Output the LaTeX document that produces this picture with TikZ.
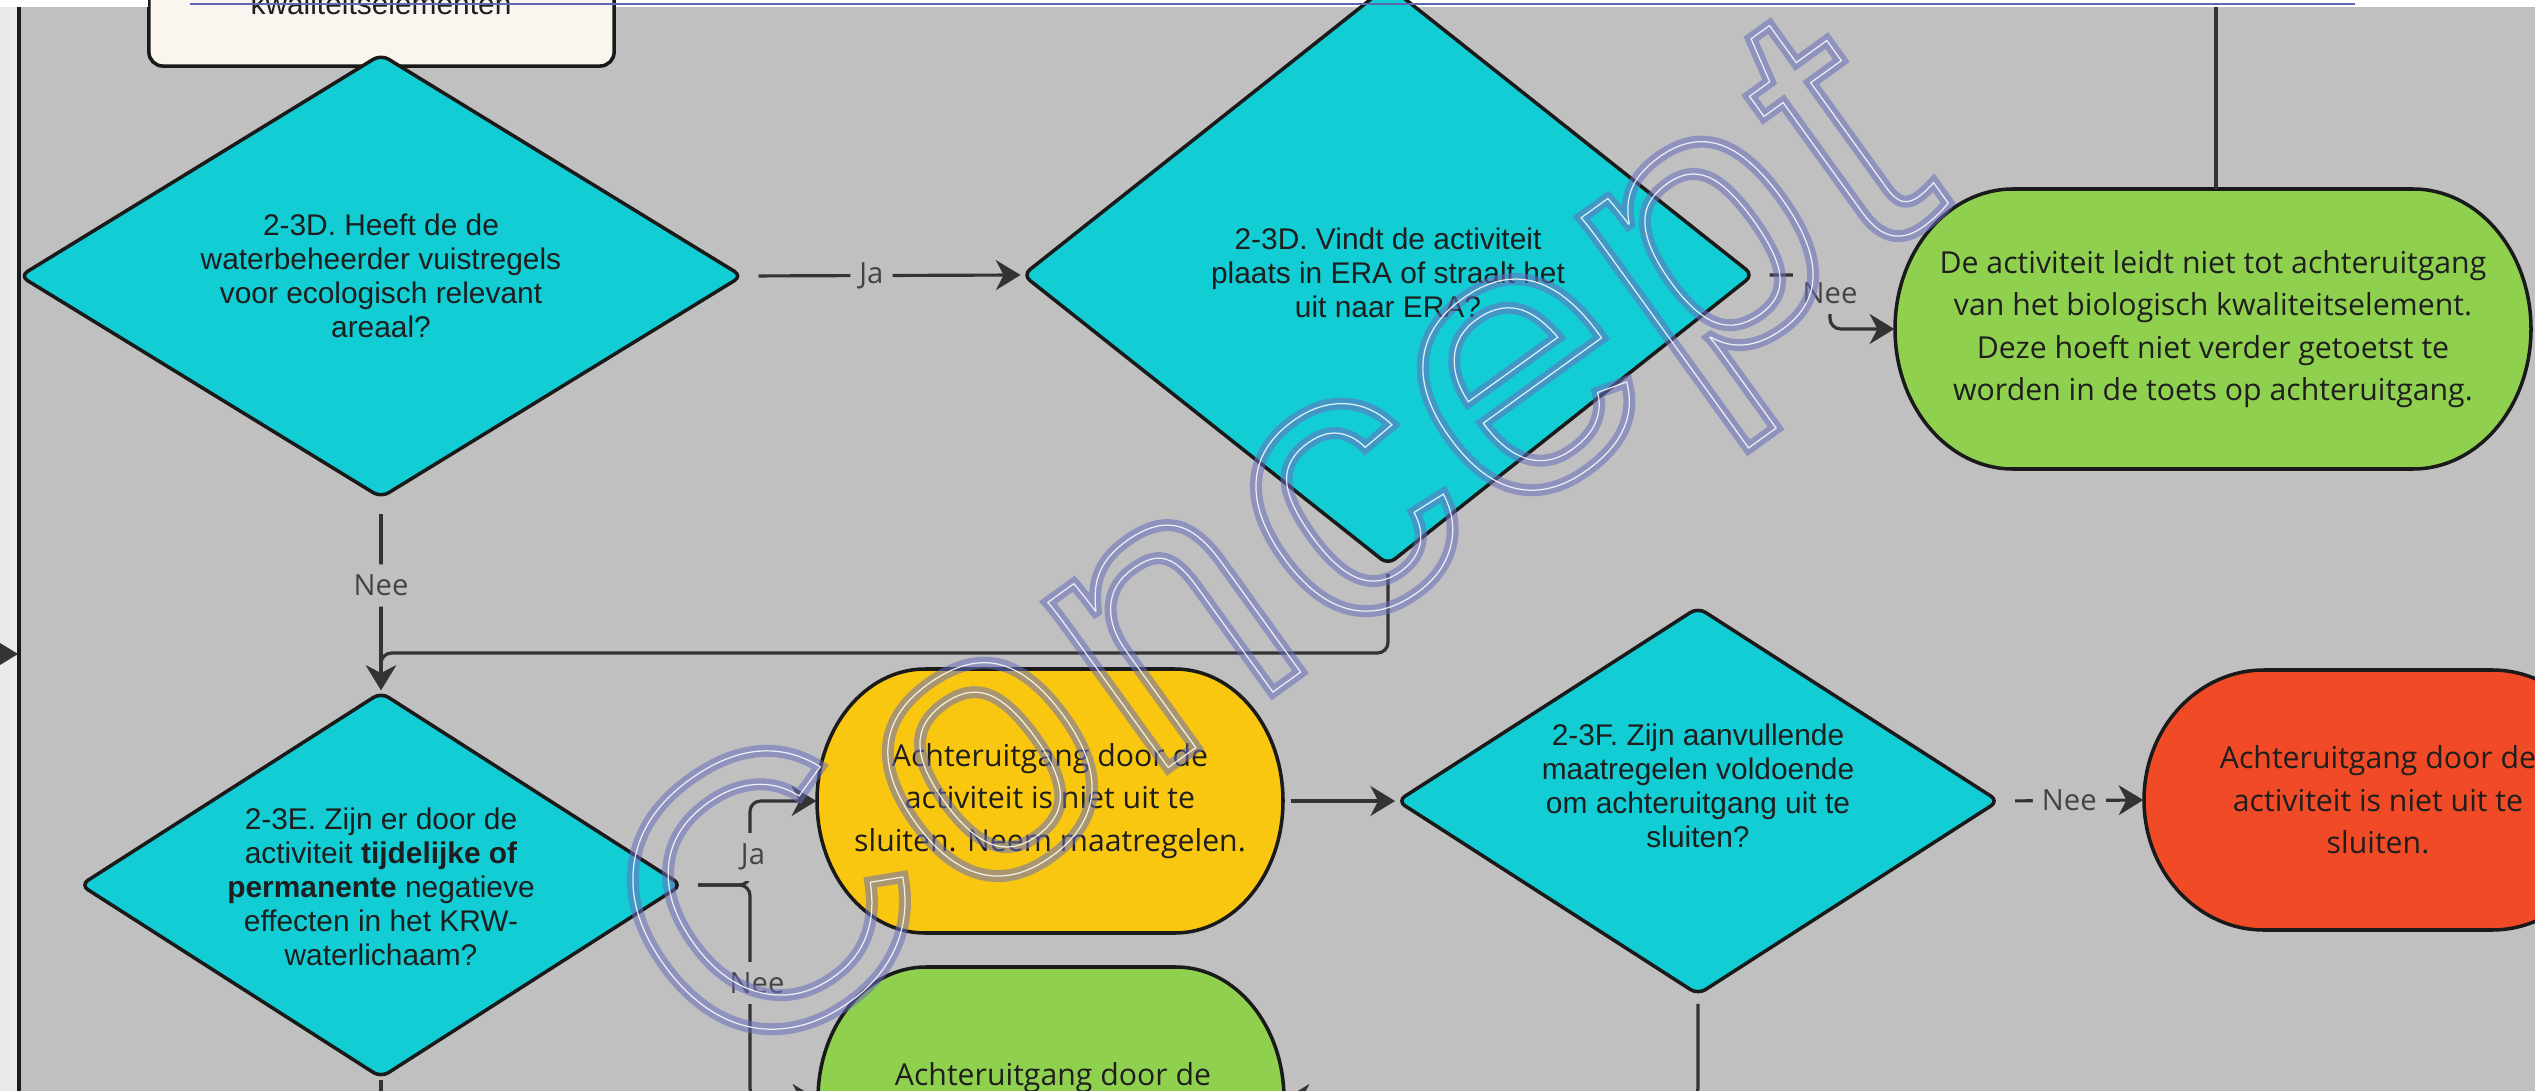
\documentclass[tikz,border=0pt]{standalone}
\usepackage{fontspec}
\usetikzlibrary{arrows.meta,shapes.geometric}
\newfontfamily\arialf{Liberation Sans}
\newfontfamily\osans{Open Sans}
\newfontfamily\wmfont[LetterSpace=3]{Liberation Sans}

\definecolor{panel}{RGB}{192,192,192}
\definecolor{strip}{RGB}{233,233,233}
\definecolor{cyanq}{RGB}{18,205,212}
\definecolor{greenb}{RGB}{143,209,79}
\definecolor{yellowb}{RGB}{250,199,16}
\definecolor{redb}{RGB}{240,74,38}
\definecolor{creamb}{RGB}{250,245,238}
\definecolor{edge}{RGB}{26,26,26}
\definecolor{conn}{RGB}{51,51,51}
\definecolor{lbl}{RGB}{68,68,68}
\definecolor{txt}{RGB}{30,30,30}
\definecolor{rule}{RGB}{95,105,178}
\definecolor{wmark}{RGB}{104,110,188}

% text drawn as outline only (stroke width in bp)
\newcommand\strokedtext[2]{\special{pdf:literal direct #1 w 1 Tr}#2\special{pdf:literal direct 0 Tr}}

% capsule-shaped terminal: name, fill, cx, cy, half width, half height, end radius, text
\newcommand\capsule[8]{%
  \filldraw[shapeline, fill=#2] ({#3-#5+#7},{#4+#6}) -- ({#3+#5-#7},{#4+#6})
    arc[start angle=90, end angle=-90, x radius={#7*0.01cm}, y radius={#6*0.01cm}]
    -- ({#3-#5+#7},{#4-#6})
    arc[start angle=270, end angle=90, x radius={#7*0.01cm}, y radius={#6*0.01cm}] -- cycle;
  \node[ctext, minimum width={2*#5*0.01cm}, minimum height={2*#6*0.01cm}] (#1) at (#3,#4) {#8};}

\begin{document}
\begin{tikzpicture}[x=0.01cm, y=0.01cm,
  shapeline/.style={draw=edge, line width=1pt},
  decision/.style={diamond, draw=edge, line width=1pt, fill=cyanq, rounded corners=2.5pt, inner sep=0pt},
  qtext/.style={font=\arialf\fontsize{8.5}{9.7}\selectfont, text=txt, align=center, inner sep=0pt},
  ctext/.style={font=\osans\fontsize{8.6}{12.1}\selectfont, text=txt, align=center, inner sep=0pt},
  lab/.style={font=\osans\fontsize{8.3}{10}\selectfont, text=lbl, fill=panel, inner xsep=2.6pt, inner ysep=3pt},
  conn/.style={draw=conn, line width=0.9pt, rounded corners=3pt, shorten <=4pt,
    -{Stealth[length=7pt, width=8.5pt, inset=2.2pt]}},
  plainline/.style={draw=conn, line width=0.9pt},
  wm/.style={rotate=35.8, inner sep=0pt, font=\wmfont\fontsize{110}{110}\selectfont}]

\useasboundingbox (0,0) rectangle (2535,-1091);
\clip (0,0) rectangle (2535,-1091);

% page and swimlane background
\fill[white] (0,0) rectangle (2535,-1091);
\fill[strip] (0,-7) rectangle (19,-1091);
\fill[panel] (19,-7) rectangle (2535,-1091);
\draw[edge, line width=1.1pt] (19,-7) -- (19,-1100);

% box above the first question
\node[draw=edge, line width=1pt, fill=creamb, rounded corners=4pt, minimum width=4.65cm,
  minimum height=2cm, inner sep=0pt] (kwal) at (381.5,34) {};
\node[font=\arialf\fontsize{8.5}{9.7}\selectfont, text=txt, anchor=base, inner sep=0pt]
  (kwaltxt) at (381,-15) {kwaliteitselementen};

% decisions
\node[decision, minimum width=7.23cm, minimum height=4.44cm] (d1) at (381,-276) {};
\node[qtext] (d1q) at (d1.center) {2-3D. Heeft de de\\waterbeheerder vuistregels\\voor ecologisch relevant\\areaal?};

\node[decision, minimum width=7.31cm, minimum height=5.8cm] (d2) at (1388,-275) {};
\node[qtext] (d2q) at (1388,-273) {2-3D. Vindt de activiteit\\plaats in ERA of straalt het\\uit naar ERA?};

\node[decision, minimum width=6.02cm, minimum height=3.86cm] (de) at (381,-885) {};
\node[qtext] (deq) at (381,-887) {2-3E. Zijn er door de\\activiteit \textbf{tijdelijke of}\\\textbf{permanente} negatieve\\effecten in het KRW-\\waterlichaam?};

\node[decision, minimum width=6.02cm, minimum height=3.88cm] (df) at (1698,-801) {};
\node[qtext] (dfq) at (1698,-786) {2-3F. Zijn aanvullende\\maatregelen voldoende\\om achteruitgang uit te\\sluiten?};

% outcomes
\capsule{g1}{greenb}{2213}{-329}{318}{140}{118}{De activiteit leidt niet tot achteruitgang\\van het biologisch kwaliteitselement.\\Deze hoeft niet verder getoetst te\\worden in de toets op achteruitgang.}
\capsule{yel}{yellowb}{1050}{-801}{233}{132}{108}{Achteruitgang door de\\activiteit is niet uit te\\sluiten. Neem maatregelen.}
\capsule{red}{redb}{2378}{-800}{234}{130}{120}{Achteruitgang door de\\activiteit is niet uit te\\sluiten.}
\capsule{g2}{greenb}{1051}{-1099}{233}{132}{108}{}
\node[ctext] (g2t) at (1053,-1078) {Achteruitgang door de};

% bend points and loose ends
\coordinate (c2a) at (1830,-275);
\coordinate (c2b) at (1830,-329);
\coordinate (j1) at (1388,-653);
\coordinate (j2) at (381,-653);
\coordinate (j3) at (750,-885);
\coordinate (j4) at (750,-801);
\coordinate (j5) at (750,-1099);
\coordinate (j6) at (1698,-1099);
\coordinate (topend) at (2216,-7);
\coordinate (g1top) at (2216,-189);
\coordinate (deout) at (381,-1130);
\coordinate (leftin) at (-60,-654);
\coordinate (leftend) at (18,-654);

% connectors
\draw[conn] (d1.east) -- (d2.west) node[lab, pos=0.46] (l1) {Ja};
\draw[conn] (d2.east) -- (c2a) -- (c2b) -- (g1.west);
\node[lab] (l2) at (1830,-293) {Nee};
\draw[conn, shorten <=2pt] (d2.south) -- (j1) -- (j2) -- (de.north);
\draw[conn] (d1.south) -- (de.north) node[lab, pos=0.45] (l3) {Nee};
\draw[conn] (de.east) -- (j3) -- (j4) -- (yel.west);
\draw[conn] (de.east) -- (j3) -- (j5) -- (g2.west);
\node[lab] (l4) at (753,-857) {Ja};
\node[lab] (l5) at (757,-983) {Nee};
\draw[conn, shorten <=2pt] (yel.east) -- (df.west);
\draw[conn] (df.east) -- (red.west) node[lab, pos=0.48] (l6) {Nee};
\draw[conn, shorten <=2pt] (df.south) -- (j6) -- (g2.east);
\draw[plainline] (g1top) -- (topend);
\draw[plainline] (de.south) -- (deout);
\draw[conn, shorten <=0pt] (leftin) -- (leftend);

% watermark
\node[wm, text=wmark, opacity=0.55] (wmark) at (1284,-567) {\strokedtext{3.4}{Concept}};
\node[wm, text=white, opacity=0.85] (wmline) at (1284,-567) {\strokedtext{0.35}{Concept}};

% top band with its rule
\fill[white] (0,0) rectangle (148,-7);
\draw[rule, line width=0.6pt] (190,-4) -- (2355,-4);
\end{tikzpicture}
\end{document}
